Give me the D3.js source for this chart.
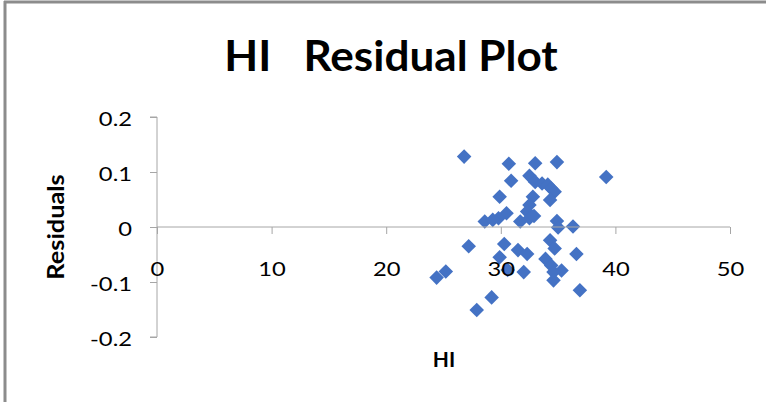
<!DOCTYPE html>
<html>
<head>
<meta charset="utf-8">
<script src="https://cdn.jsdelivr.net/npm/d3@7"></script>
<style>
  body { margin: 0; background: #fff; }
  svg text { font-family: Lato, "Noto Sans", sans-serif; }
</style>
</head>
<body>
<div id="chart"></div>
<script>
var width = 766, height = 402;

// HI values and residuals
var hi = [26.8, 30.7, 33.0, 34.9, 39.2, 30.9, 32.5, 33.0, 33.6, 34.1,
          34.4, 34.7, 34.3, 29.9, 32.8, 32.5, 32.3, 32.5, 30.5, 29.8,
          28.6, 29.3, 31.7, 34.9, 35.0, 36.3, 27.2, 30.3, 31.5, 32.3,
          29.9, 34.3, 34.7, 36.6, 33.9, 34.4, 35.3, 34.6, 32.0, 30.6,
          34.6, 36.9, 25.2, 24.4, 29.2, 27.9, 32.9];
var residuals = [0.128, 0.115, 0.116, 0.118, 0.091, 0.084, 0.093, 0.082, 0.079, 0.077,
                 0.070, 0.064, 0.049, 0.055, 0.055, 0.040, 0.028, 0.016, 0.025, 0.016,
                 0.010, 0.013, 0.010, 0.011, -0.001, 0.001, -0.035, -0.031, -0.042, -0.049,
                 -0.055, -0.024, -0.039, -0.049, -0.058, -0.070, -0.079, -0.082, -0.082, -0.078,
                 -0.097, -0.115, -0.081, -0.092, -0.128, -0.151, 0.020];
var xTicks = [0, 10, 20, 30, 40, 50];
var yTicks = [-0.2, -0.1, 0, 0.1, 0.2];

var stretch = 1.25; // labels in the original are drawn wide

var svg = d3.select("#chart").append("svg")
    .attr("width", width)
    .attr("height", height);

// chart frame (only top and left edges show in the crop)
svg.append("line").attr("x1", 4).attr("x2", width).attr("y1", 2).attr("y2", 2)
    .attr("stroke", "#8c8c8c").attr("stroke-width", 3);
svg.append("line").attr("x1", 5).attr("x2", 5).attr("y1", 1).attr("y2", height)
    .attr("stroke", "#8c8c8c").attr("stroke-width", 3);

var x = d3.scaleLinear().domain([0, 50]).range([157, 730]);
var y = d3.scaleLinear().domain([-0.2, 0.2]).range([337, 117]);

// markers first so the tick labels sit on top, like the original
var diamond = d3.symbol().type(d3.symbolDiamond2).size(135);
var pts = hi.map(function(d, i) { return {x: d, y: residuals[i]}; });
svg.append("g").selectAll("path")
    .data(pts)
    .enter().append("path")
    .attr("d", diamond)
    .attr("transform", function(d) { return "translate(" + x(d.x) + "," + y(d.y) + ")"; })
    .attr("fill", "#4472c4");

// y axis
svg.append("g")
    .attr("transform", "translate(" + x(0) + ",0)")
    .call(d3.axisLeft(y).tickValues(yTicks).tickSize(7).tickPadding(18)
      .tickFormat(function(d) { return d === 0 ? "0" : d.toFixed(1); }))
    .call(function(g) {
      g.select(".domain").attr("stroke", "#a6a6a6").attr("d", "M-7," + y(0.2) + "H0V" + y(-0.2) + "H-7");
      g.selectAll(".tick line").attr("stroke", "#a6a6a6");
      g.selectAll(".tick text").attr("fill", "#000").style("font-size", "19px")
        .attr("x", -25 / stretch).attr("dy", "0.45em")
        .attr("transform", "scale(" + stretch + ",1)");
    });

// x axis at residual = 0
svg.append("g")
    .attr("transform", "translate(0," + y(0) + ")")
    .call(d3.axisBottom(x).tickValues(xTicks).tickSize(7).tickPadding(29))
    .call(function(g) {
      g.select(".domain").attr("stroke", "#a6a6a6").attr("d", "M" + x(0) + ",0H" + x(50));
      g.selectAll(".tick line").attr("stroke", "#a6a6a6");
      g.selectAll(".tick text").attr("fill", "#000").style("font-size", "19px")
        .attr("transform", "scale(" + stretch + ",1)");
    });

// titles
svg.append("text")
    .attr("transform", "translate(391,71) scale(1.05,1)")
    .attr("text-anchor", "middle")
    .style("font-size", "42px").style("font-weight", "bold")
    .attr("xml:space", "preserve")
    .text("HI   Residual Plot");

svg.append("text")
    .attr("transform", "translate(64,227) rotate(-90) scale(1.1,1)")
    .attr("text-anchor", "middle")
    .style("font-size", "23px").style("font-weight", "bold")
    .text("Residuals");

svg.append("text").attr("x", 444).attr("y", 367)
    .attr("text-anchor", "middle")
    .style("font-size", "21px").style("font-weight", "bold")
    .text("HI");
</script>
</body>
</html>
